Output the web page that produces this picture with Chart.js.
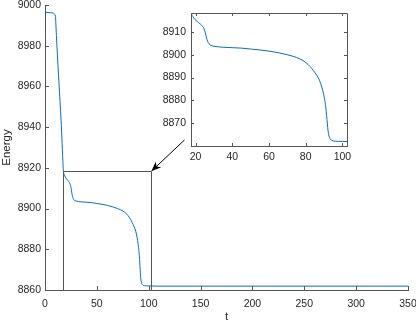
<!DOCTYPE html>
<html>
<head>
<meta charset="utf-8">
<script src="https://cdn.jsdelivr.net/npm/chart.js@4"></script>
<style>
  body { margin: 0; background: #fff; }
  #wrap { position: relative; width: 416px; height: 324px; }
  #wrap canvas { position: absolute; left: 0; top: 0; }
</style>
</head>
<body>
<div id="wrap">
  <canvas id="mainChart" width="416" height="324"></canvas>
  <canvas id="insetChart" width="416" height="324"></canvas>
</div>
<script>
// energy vs t
const tValues = [0, 5, 8, 9, 10, 11, 12, 13, 14, 15, 16, 17, 17.8, 18.5, 19.6, 21, 22.4, 24.2, 25, 25.5, 26, 26.5, 27.2, 27.8, 29, 30, 35, 40, 45, 50, 55, 60, 65, 70, 75, 78, 80, 82.4, 84, 86, 87.5, 88.8, 89.8, 90.6, 91.2, 91.6, 92, 92.4, 93, 94.2, 96, 100, 110, 350];
const energyValues = [8996.4, 8996.2, 8996.0, 8995.6, 8994.5, 8985, 8975, 8966, 8957, 8948, 8938, 8926, 8918.2, 8916.8, 8915.5, 8914.5, 8913.6, 8912, 8910.5, 8909, 8907.3, 8906, 8905, 8904.3, 8903.9, 8903.7, 8903.3, 8903.1, 8902.9, 8902.5, 8902.1, 8901.6, 8900.9, 8900.0, 8898.8, 8897.7, 8896.6, 8894.8, 8893.2, 8891, 8888.8, 8885.8, 8882.5, 8879, 8875, 8871.5, 8868, 8865.5, 8863.6, 8862.5, 8862.1, 8862, 8861.9, 8861.9];

const xTicksMain = [0, 50, 100, 150, 200, 250, 300, 350];
const yTicksMain = [8860, 8880, 8900, 8920, 8940, 8960, 8980, 9000];
const xTicksInset = [20, 40, 60, 80, 100];
const yTicksInset = [8870, 8880, 8890, 8900, 8910];

// zoomed window shown in the inset
const zoomT = [17.5, 102.5];
const zoomE = [8860, 8918.3];
// arrow from near the inset to the window corner
const arrowFrom = [134.5, 8933.7];
const arrowTo = [102.5, 8918.3];

const lineColor = '#0072BD';
const axisColor = '#555555';
const textColor = '#262626';
const fontFamily = '"Liberation Sans", Arial, Helvetica, sans-serif';

const points = tValues.map((t, i) => ({ x: t, y: energyValues[i] }));

const inwardTicks = {
  id: 'inwardTicks',
  afterDatasetsDraw(chart, args, opts) {
    const { ctx, chartArea: a, scales: { x, y } } = chart;
    ctx.save();
    ctx.strokeStyle = axisColor;
    ctx.lineWidth = 1;
    ctx.beginPath();
    x.ticks.forEach(t => {
      const px = Math.round(x.getPixelForValue(t.value)) + 0.5;
      ctx.moveTo(px, a.bottom);
      ctx.lineTo(px, a.bottom - opts.len);
      if (opts.box) {
        ctx.moveTo(px, a.top);
        ctx.lineTo(px, a.top + opts.len);
      }
    });
    y.ticks.forEach(t => {
      const py = Math.round(y.getPixelForValue(t.value)) + 0.5;
      ctx.moveTo(a.left, py);
      ctx.lineTo(a.left + opts.len, py);
      if (opts.box) {
        ctx.moveTo(a.right, py);
        ctx.lineTo(a.right - opts.len, py);
      }
    });
    if (opts.box) {
      const r = Math.round(a.right) + 0.5, tp = Math.round(a.top) + 0.5;
      ctx.moveTo(a.left, tp);
      ctx.lineTo(r, tp);
      ctx.lineTo(r, a.bottom);
    }
    ctx.stroke();
    ctx.restore();
  }
};

const zoomMarker = {
  id: 'zoomMarker',
  afterDatasetsDraw(chart) {
    const { ctx, scales: { x, y } } = chart;
    const x0 = Math.round(x.getPixelForValue(zoomT[0])) + 0.5;
    const x1 = Math.round(x.getPixelForValue(zoomT[1])) + 0.5;
    const y0 = Math.round(y.getPixelForValue(zoomE[1])) + 0.5;
    const y1 = y.getPixelForValue(zoomE[0]);
    ctx.save();
    ctx.strokeStyle = axisColor;
    ctx.lineWidth = 1;
    ctx.beginPath();
    ctx.moveTo(x0, y1);
    ctx.lineTo(x0, y0);
    ctx.lineTo(x1, y0);
    ctx.lineTo(x1, y1);
    ctx.stroke();

    // arrow
    const ax = x.getPixelForValue(arrowFrom[0]), ay = y.getPixelForValue(arrowFrom[1]);
    const bx = x.getPixelForValue(arrowTo[0]), by = y.getPixelForValue(arrowTo[1]);
    const ang = Math.atan2(by - ay, bx - ax);
    const len = 10, half = 4;
    ctx.strokeStyle = '#000';
    ctx.fillStyle = '#000';
    ctx.beginPath();
    ctx.moveTo(ax, ay);
    ctx.lineTo(bx - Math.cos(ang) * 6, by - Math.sin(ang) * 6);
    ctx.stroke();
    ctx.translate(bx, by);
    ctx.rotate(ang);
    ctx.beginPath();
    ctx.moveTo(0, 0);
    ctx.lineTo(-len, -half);
    ctx.lineTo(-len * 0.7, 0);
    ctx.lineTo(-len, half);
    ctx.closePath();
    ctx.fill();
    ctx.restore();
  }
};

const whiteArea = {
  id: 'whiteArea',
  beforeDraw(chart) {
    const { ctx, chartArea: a } = chart;
    ctx.save();
    ctx.fillStyle = '#fff';
    ctx.fillRect(a.left, a.top, a.right - a.left, a.bottom - a.top);
    ctx.restore();
  }
};

function axisScale(min, max, tickList, opts) {
  return {
    type: 'linear',
    min: min,
    max: max,
    afterBuildTicks: s => { s.ticks = tickList.map(v => ({ value: v })); },
    afterFit: s => {
      if (opts.width) s.width = opts.width;
      if (opts.height) s.height = opts.height;
      s.paddingTop = 0; s.paddingBottom = 0; s.paddingLeft = 0; s.paddingRight = 0;
    },
    grid: { display: true, drawOnChartArea: false, drawTicks: false },
    border: { display: true, color: axisColor, width: 1 },
    ticks: {
      color: textColor,
      padding: opts.pad,
      maxRotation: 0,
      autoSkip: false,
      font: { family: fontFamily, size: opts.size },
      callback: v => String(v)
    },
    title: opts.title ? {
      display: true,
      text: opts.title,
      color: textColor,
      padding: { top: 0, bottom: 0 },
      font: { family: fontFamily, size: 11.5 }
    } : { display: false }
  };
}

new Chart(document.getElementById('mainChart').getContext('2d'), {
  type: 'line',
  data: {
    datasets: [{
      data: points,
      borderColor: lineColor,
      borderWidth: 1,
      pointRadius: 0,
      cubicInterpolationMode: 'monotone'
    }]
  },
  options: {
    responsive: false,
    animation: false,
    layout: { padding: { left: 0, top: 5, right: 8, bottom: 0 } },
    plugins: { legend: { display: false }, tooltip: { enabled: false }, inwardTicks: { len: 4, box: false } },
    scales: {
      x: axisScale(0, 350, xTicksMain, { height: 34, pad: 8, size: 10.5, title: 't' }),
      y: axisScale(8860, 9000, yTicksMain, { width: 45, pad: 4, size: 10.5, title: 'Energy' })
    }
  },
  plugins: [inwardTicks, zoomMarker]
});

new Chart(document.getElementById('insetChart').getContext('2d'), {
  type: 'line',
  data: {
    datasets: [{
      data: points,
      borderColor: lineColor,
      borderWidth: 1,
      pointRadius: 0,
      cubicInterpolationMode: 'monotone'
    }]
  },
  options: {
    responsive: false,
    animation: false,
    layout: { padding: { left: 151, top: 13, right: 69, bottom: 158 } },
    plugins: { legend: { display: false }, tooltip: { enabled: false }, inwardTicks: { len: 3, box: true } },
    scales: {
      x: axisScale(zoomT[0], zoomT[1], xTicksInset, { height: 20, pad: 5, size: 10.5 }),
      y: axisScale(zoomE[0], zoomE[1], yTicksInset, { width: 40, pad: 5, size: 10.5 })
    }
  },
  plugins: [whiteArea, inwardTicks]
});
</script>
</body>
</html>
